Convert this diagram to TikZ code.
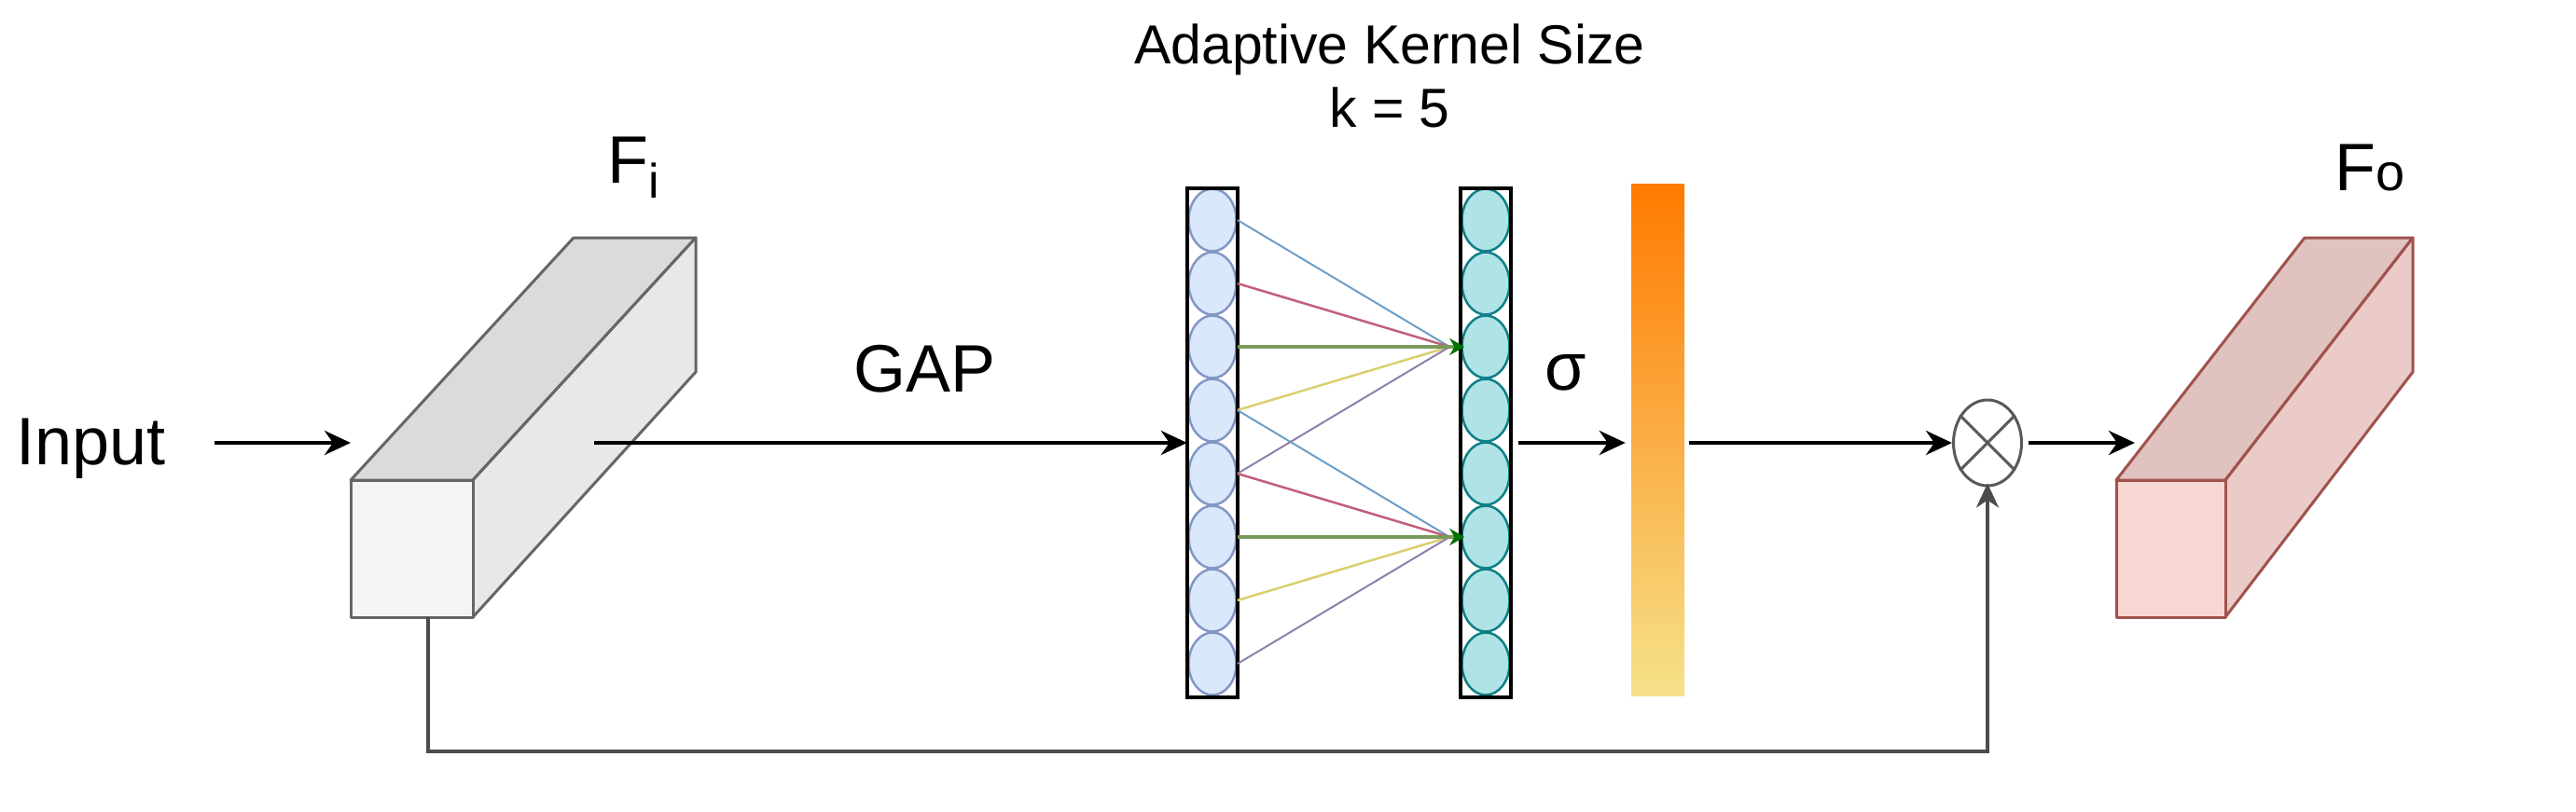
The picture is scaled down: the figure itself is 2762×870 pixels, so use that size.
\documentclass[tikz,border=0pt]{standalone}
\usepackage{fontspec}
\setmainfont{Liberation Sans}
\usetikzlibrary{arrows.meta,shapes.geometric}
\definecolor{lblue}{HTML}{DAE8FC}
\definecolor{dblue}{HTML}{8497C4}
\definecolor{lteal}{HTML}{B0E3E6}
\definecolor{dteal}{HTML}{0E8088}
\definecolor{redS}{HTML}{A0524D}
\definecolor{foFront}{HTML}{F8D6D2}
\definecolor{foTop}{HTML}{E0C2BE}
\definecolor{foSide}{HTML}{EBCBC8}
\definecolor{cBlue}{HTML}{6C9EC8}
\definecolor{cPink}{HTML}{C0607A}
\definecolor{cGreen}{HTML}{7A9A5A}
\definecolor{cYellow}{HTML}{D8D070}
\definecolor{cPurple}{HTML}{9080A8}
\tikzset{
  arr/.style={line width=4pt,-{Stealth[length=28pt,width=26pt,inset=9pt]}},
  lbl/.style={font=\fontsize{72}{86}\selectfont,inner sep=0pt},
  lc/.style={ellipse,draw=dblue,fill=lblue,line width=2.5pt,minimum width=51pt,minimum height=67pt,inner sep=0pt},
  rc/.style={ellipse,draw=dteal,fill=lteal,line width=2.5pt,minimum width=51pt,minimum height=67pt,inner sep=0pt},
  col/.style={minimum width=54pt,minimum height=546pt,inner sep=0pt},
  conn/.style={line width=2pt},
}
\begin{document}
\begin{tikzpicture}[x=1pt,y=-1pt]
\useasboundingbox (0,0) rectangle (2762,870);
% Fi box
\begin{scope}[draw=black!60,line width=3pt,line join=round]
\filldraw[fill=black!14] (376,515) -- (615,255) -- (746,255) -- (507,515) -- cycle;
\filldraw[fill=black!9] (507,515) -- (746,255) -- (746,399) -- (507,662) -- cycle;
\filldraw[fill=black!4] (376,515) rectangle (507,662);
\end{scope}
\coordinate (fiIn) at (376,475);
\coordinate (fiOut) at (637,475);
\coordinate (fiBot) at (459,662);
% Fo box
\begin{scope}[draw=redS,line width=3pt,line join=round]
\filldraw[fill=foTop] (2269,515) -- (2471,255) -- (2587,255) -- (2386,515) -- cycle;
\filldraw[fill=foSide] (2386,515) -- (2587,255) -- (2587,399) -- (2386,662) -- cycle;
\filldraw[fill=foFront] (2269,515) rectangle (2386,662);
\end{scope}
\coordinate (foIn) at (2289,475);
% labels
\node[lbl,anchor=base west] (input) at (17,498) {Input};
\node[lbl,anchor=base west] (gap) at (915,420) {GAP};
\node[lbl] (sigma) at (1679,400) {σ};
\node[lbl,anchor=base west] (fi) at (651,196) {F\raisebox{-16pt}{\fontsize{52}{52}\selectfont i}};
\node[lbl,anchor=base west] (fo) at (2503,204) {F{\fontsize{56}{56}\selectfont o}};
\node[font=\fontsize{59}{68}\selectfont,inner sep=0pt,align=center,anchor=north] (title) at (1490,26) {Adaptive Kernel Size\\k = 5};
% columns
\node[col] (lcol) at (1300,475) {};
\node[col] (rcol) at (1593,475) {};
\foreach \i in {1,...,8}{
  \node[lc] (L\i) at (1300,{236+68*(\i-1)}) {};
  \node[rc] (R\i) at (1593,{236+68*(\i-1)}) {};
}
\draw[draw=black,line width=4pt] (lcol.south west) rectangle (lcol.north east);
\draw[draw=black,line width=4pt] (rcol.south west) rectangle (rcol.north east);
% connections
\foreach \t/\s in {3/1,6/4}{
  \pgfmathtruncatemacro{\a}{\s}\pgfmathtruncatemacro{\b}{\s+1}\pgfmathtruncatemacro{\c}{\s+2}\pgfmathtruncatemacro{\d}{\s+3}\pgfmathtruncatemacro{\e}{\s+4}
  \draw[conn,cBlue] (L\a.east) -- ([xshift=-12pt]R\t.west);
  \draw[conn,cPink,line width=2.5pt] (L\b.east) -- ([xshift=-12pt]R\t.west);
  \draw[conn,cYellow,line width=2.5pt] (L\d.east) -- ([xshift=-12pt]R\t.west);
  \draw[conn,cPurple] (L\e.east) -- ([xshift=-12pt]R\t.west);
  \draw[conn,cGreen,line width=3.5pt,-{Stealth[length=16pt,width=18pt,color=green!45!black]}] (L\c.east) -- ([xshift=4pt]R\t.west);
}
% bar
\node[minimum width=57pt,minimum height=549pt,inner sep=0pt,top color={rgb,255:red,255;green,122;blue,0},bottom color={rgb,255:red,246;green,226;blue,138}] (bar) at (1777.5,471.5) {};
% multiply
\node[ellipse,draw=black!65,line width=3pt,minimum width=73pt,minimum height=92pt,inner sep=0pt] (mul) at (2131,475) {};
\draw[black!65,line width=3pt] (mul.135) -- (mul.-45) (mul.45) -- (mul.-135);
% arrows
\coordinate (inS) at (230,475);
\draw[arr] (inS) -- (fiIn);
\draw[arr] (fiOut) -- (lcol.west);
\draw[arr] ([xshift=8pt]rcol.east) -- ([xshift=-6pt]bar.west |- rcol.east);
\draw[arr] ([xshift=5pt]bar.east |- mul.west) -- (mul.west);
\draw[arr] ([xshift=6pt]mul.east) -- (foIn);
\draw[line width=3.5pt,black!70,-{Stealth[length=26pt,width=24pt,inset=8pt]}] (fiBot) -- (459,806) -- (2131,806) -- ([yshift=4pt]mul.south);
\end{tikzpicture}
\end{document}
